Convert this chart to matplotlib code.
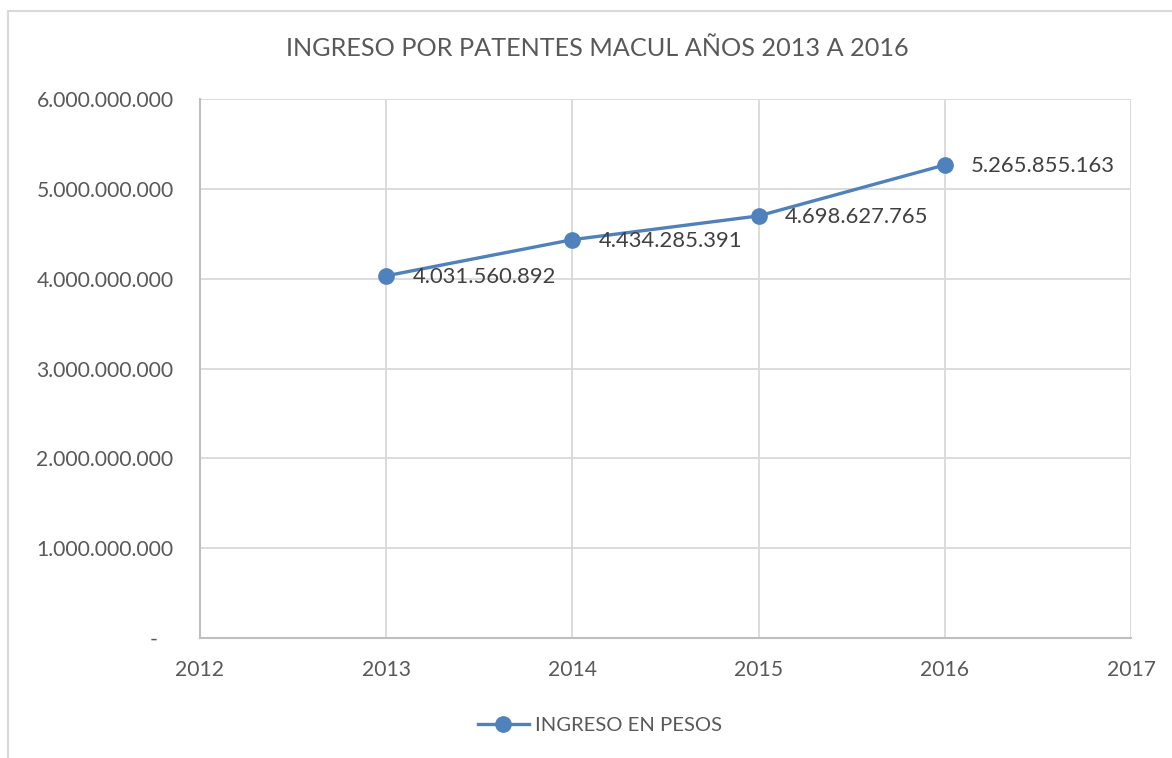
import matplotlib
matplotlib.use('Agg')
import matplotlib.pyplot as plt
from matplotlib.patches import Rectangle
from matplotlib.ticker import FuncFormatter

years = [2013, 2014, 2015, 2016]
ingreso = [4031560892, 4434285391, 4698627765, 5265855163]
x_ticks = [2012, 2013, 2014, 2015, 2016, 2017]
y_ticks = [0, 1e9, 2e9, 3e9, 4e9, 5e9, 6e9]

titulo = 'INGRESO POR PATENTES MACUL AÑOS 2013 A 2016'
serie = 'INGRESO EN PESOS'

plt.rcParams['font.family'] = ['Lato', 'DejaVu Sans']

azul = '#4F81BD'
gris_texto = '#595959'
gris_grid = '#D9D9D9'


def miles(v):
    # formato con puntos como separador de miles
    return f'{v:,.0f}'.replace(',', '.')


def fmt_y(v, pos):
    if v == 0:
        return '-   '
    return miles(v)


fig = plt.figure(figsize=(11.72, 7.58), dpi=100)
ax = fig.add_axes([200 / 1172, 1 - 638 / 758, 931 / 1172, 539 / 758])

# borde del grafico
fig.patches.append(Rectangle((8 / 1172, -0.05), 1.1, 0.05 + 1 - 11 / 758,
                             transform=fig.transFigure, fill=False,
                             edgecolor=gris_grid, linewidth=1.5))

ax.plot(years, ingreso, color=azul, linewidth=2.4, marker='o',
        markersize=11, label=serie, zorder=3)

for x, y in zip(years, ingreso):
    ax.annotate(miles(y), (x, y), xytext=(19, -1), textcoords='offset points',
                ha='left', va='center', fontsize=15.8, color='#404040')

ax.set_xlim(2012, 2017)
ax.set_ylim(0, 6e9)
ax.set_xticks(x_ticks)
ax.set_yticks(y_ticks)
ax.yaxis.set_major_formatter(FuncFormatter(fmt_y))
ax.xaxis.set_major_formatter(FuncFormatter(lambda v, p: str(int(v))))

ax.grid(True, color=gris_grid, linewidth=1.3)
ax.set_axisbelow(True)
for s in ['top', 'right']:
    ax.spines[s].set_visible(False)
for s in ['left', 'bottom']:
    ax.spines[s].set_color('#BFBFBF')
    ax.spines[s].set_linewidth(1.5)

ax.tick_params(axis='both', length=0, labelsize=15.2, labelcolor=gris_texto)
ax.tick_params(axis='y', pad=19)
ax.tick_params(axis='x', pad=16)

fig.text(597 / 1172, 1 - 48 / 758, titulo, ha='center', va='center',
         fontsize=18.2, color=gris_texto)

fig.legend(loc='center', bbox_to_anchor=(600 / 1172, 1 - 725 / 758),
           frameon=False, fontsize=14.6, labelcolor=gris_texto,
           handlelength=2.5, handletextpad=0.3)

fig.savefig('out.png', dpi=100)
